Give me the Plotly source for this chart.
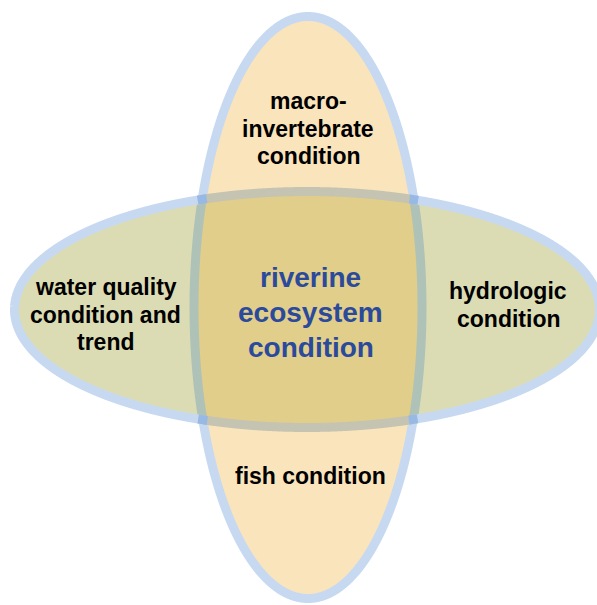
import numpy as np
import plotly.graph_objects as go

W, H = 597, 605

# ---- diagram content ----
outer_labels = [
    ["macro-", "invertebrate", "condition"],
    ["water quality", "condition and", "trend"],
    ["hydrologic", "condition"],
    ["fish condition"],
]
center_label = ["riverine", "ecosystem", "condition"]

# ---- geometry (pixel coordinates, y downward) ----
V = dict(cx=308.0, cy=307.5, rx=114.0, ry=291.0)   # vertical ellipse
Hz = dict(cx=307.0, cy=309.5, rx=292.5, ry=118.0)  # horizontal ellipse
BW = 9  # border width

outer_x = [308, 105.5, 508, 310]
outer_base = [[107, 135, 162], [293, 320.5, 348], [297, 325], [482]]
center_x = 310.5
center_base = [283, 318, 353]

FILL_V = "#FAE4BC"
FILL_H = "#DCDCB4"
FILL_I = "#E0CE8A"
BORDER = "#C6D9F1"
V_BORDER_IN_H = "#AFC2B8"
H_BORDER_IN_V = "#C5C3B1"
CROSS = "#98B9E4"
TEXT_BLUE = "#2B4A9B"
FONT = "Liberation Sans, Arial, sans-serif"
OUT_SIZE = 23
CEN_SIZE = 28

N = 3000


def ellipse_pts(e):
    t = np.linspace(0, 2 * np.pi, N, endpoint=False)
    return e["cx"] + e["rx"] * np.cos(t), e["cy"] + e["ry"] * np.sin(t)


def inside(e, x, y):
    return ((x - e["cx"]) / e["rx"]) ** 2 + ((y - e["cy"]) / e["ry"]) ** 2 < 1


def runs(mask):
    """contiguous index runs (cyclic) where mask is True"""
    idx = np.arange(len(mask))
    if mask.all():
        return [np.append(idx, 0)]
    start = np.argmin(mask) if mask[0] else 0
    order = np.roll(idx, -start)
    m = mask[order]
    out, cur = [], []
    for k, v in zip(order, m):
        if v:
            cur.append(k)
        elif cur:
            out.append(np.array(cur)); cur = []
    if cur:
        out.append(np.array(cur))
    return out


def path_of(x, y, closed=False):
    s = "M " + " L ".join(f"{a:.2f},{b:.2f}" for a, b in zip(x, y))
    return s + (" Z" if closed else "")


def stroke(x, y, color):
    return dict(type="path", xref="x", yref="y", path=path_of(x, y),
                fillcolor="rgba(0,0,0,0)", line=dict(color=color, width=BW), layer="below")


def ray_dist(e, px, py, th):
    c, s = np.cos(th), np.sin(th)
    dx, dy = px - e["cx"], py - e["cy"]
    a2, b2 = e["rx"] ** 2, e["ry"] ** 2
    A = c * c / a2 + s * s / b2
    B = 2 * (dx * c / a2 + dy * s / b2)
    C = dx * dx / a2 + dy * dy / b2 - 1
    return (-B + np.sqrt(B * B - 4 * A * C)) / (2 * A)


shapes = []
for e, col in [(V, FILL_V), (Hz, FILL_H)]:
    shapes.append(dict(type="circle", xref="x", yref="y",
                       x0=e["cx"] - e["rx"], x1=e["cx"] + e["rx"],
                       y0=e["cy"] - e["ry"], y1=e["cy"] + e["ry"],
                       fillcolor=col, line=dict(width=0), layer="below"))

# intersection (overlap) region
px, py = 308.0, 309.0
th = np.linspace(0, 2 * np.pi, 1441)
r = np.minimum(ray_dist(V, px, py, th), ray_dist(Hz, px, py, th))
shapes.append(dict(type="path", xref="x", yref="y",
                   path=path_of(px + r * np.cos(th), py + r * np.sin(th), closed=True),
                   fillcolor=FILL_I, line=dict(width=0), layer="below"))

vx, vy = ellipse_pts(V)
hx, hy = ellipse_pts(Hz)

# vertical ellipse border
m_in = inside(Hz, vx, vy)
for seg in runs(~m_in):
    shapes.append(stroke(vx[seg], vy[seg], BORDER))
for seg in runs(m_in):
    shapes.append(stroke(vx[seg], vy[seg], V_BORDER_IN_H))

# horizontal ellipse border
m_in = inside(V, hx, hy)
for seg in runs(~m_in):
    shapes.append(stroke(hx[seg], hy[seg], BORDER))
for seg in runs(m_in):
    shapes.append(stroke(hx[seg], hy[seg], H_BORDER_IN_V))

# crossing patches (both borders overlap)
near = np.zeros(N, dtype=bool)
cand = np.where((np.abs(hx - V["cx"]) < V["rx"] + 20))[0]
d = np.sqrt((hx[cand, None] - vx[None, :]) ** 2 + (hy[cand, None] - vy[None, :]) ** 2).min(axis=1)
near[cand] = d <= BW / 2
for seg in runs(near):
    shapes.append(stroke(hx[seg], hy[seg], CROSS))

annotations = []
for lines, x, bases in zip(outer_labels, outer_x, outer_base):
    for t, b in zip(lines, bases):
        annotations.append(dict(x=x, y=b - 0.26 * OUT_SIZE, xref="x", yref="y", text=f"<b>{t}</b>",
                                showarrow=False, xanchor="center", yanchor="middle",
                                font=dict(family=FONT, size=OUT_SIZE, color="#000000")))
for t, b in zip(center_label, center_base):
    annotations.append(dict(x=center_x, y=b - 0.19 * CEN_SIZE, xref="x", yref="y", text=f"<b>{t}</b>",
                            showarrow=False, xanchor="center", yanchor="middle",
                            font=dict(family=FONT, size=CEN_SIZE, color=TEXT_BLUE)))

fig = go.Figure()
fig.add_trace(go.Scatter(x=[0, W], y=[0, H], mode="markers", marker=dict(opacity=0),
                         hoverinfo="skip", showlegend=False))
fig.update_layout(
    width=W, height=H, margin=dict(l=0, r=0, t=0, b=0),
    paper_bgcolor="white", plot_bgcolor="white",
    xaxis=dict(range=[0, W], visible=False, fixedrange=True),
    yaxis=dict(range=[H, 0], visible=False, fixedrange=True),
    shapes=shapes, annotations=annotations, showlegend=False,
)

post = "document.body.style.margin='0';document.body.style.overflow='hidden';"
fig.write_html("out.html", config=dict(displayModeBar=False), post_script=post)
